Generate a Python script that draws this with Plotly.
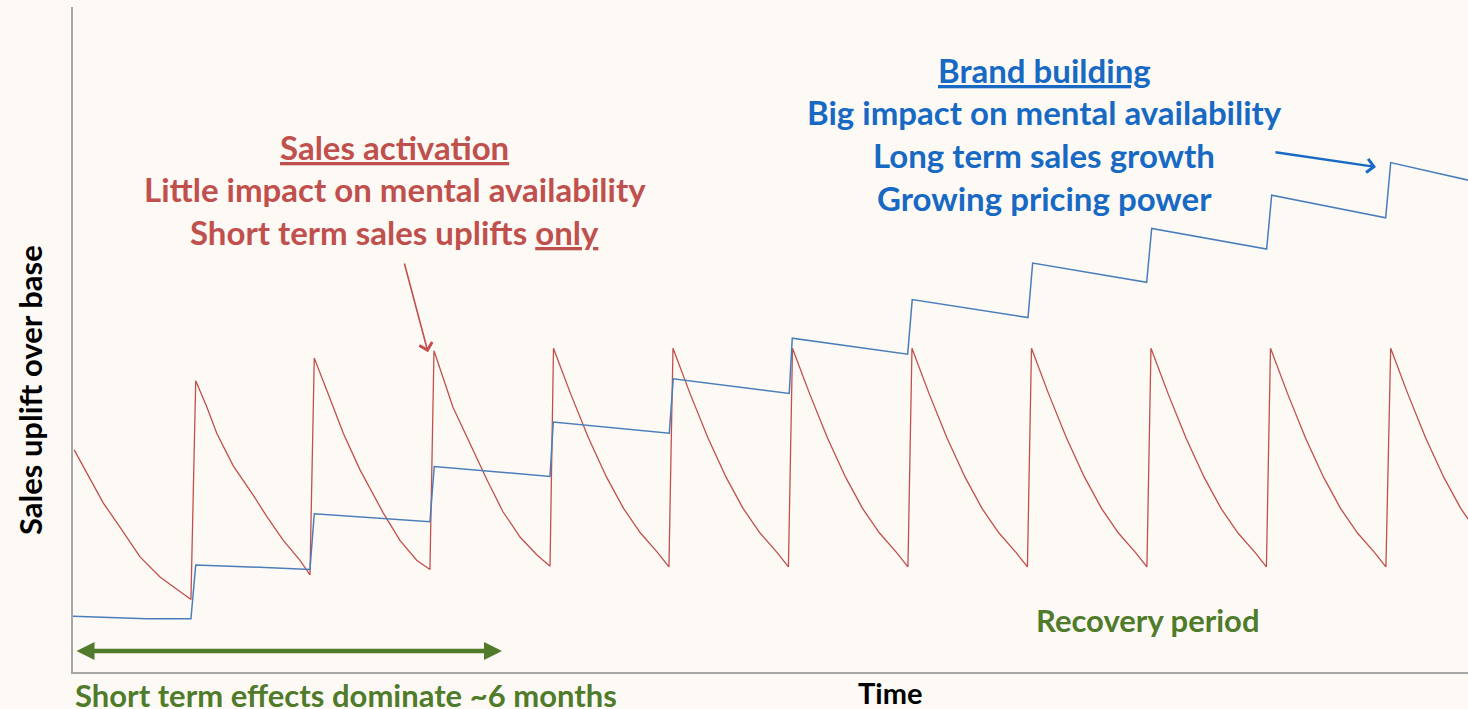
import plotly.graph_objects as go

# ---- data (x = time units, one campaign every 10 units; y = uplift index 0-100) ----
red_x = [
    0.10, 1.15, 2.54, 3.93, 5.61, 7.28, 8.95, 9.87,
    10.27, 11.19, 12.03, 13.41, 15.08, 16.21, 17.60, 19.00, 19.83,
    20.19, 21.23, 22.62, 24.02, 25.97, 27.36, 28.76, 29.87,
    30.21, 31.80, 33.22, 34.64, 35.98, 37.41, 38.83, 39.92,
    40.21, 41.63, 43.14, 44.65, 46.07, 47.49, 48.91, 49.87,
    50.21, 51.63, 53.14, 54.65, 56.07, 57.49, 58.91, 59.87,
    60.21, 61.63, 63.14, 64.65, 66.07, 67.49, 68.91, 69.87,
    70.21, 71.63, 73.14, 74.65, 76.07, 77.49, 78.91, 79.87,
    80.21, 81.63, 83.14, 84.65, 86.07, 87.49, 88.91, 89.87,
    90.21, 91.63, 93.14, 94.65, 96.07, 97.49, 98.91, 99.87,
    100.21, 101.63, 103.14, 104.65, 106.07, 107.49, 108.91, 109.87,
    110.27, 111.69, 113.20, 114.71, 116.13, 116.90,
]
red_y = [
    33.4, 29.9, 25.4, 21.8, 17.3, 14.3, 12.1, 10.9,
    43.8, 39.9, 35.9, 31.0, 26.6, 23.4, 19.8, 16.8, 14.6,
    47.2, 42.4, 35.9, 30.4, 23.9, 19.8, 16.8, 15.4,
    48.3, 39.8, 34.4, 28.9, 24.1, 20.3, 17.6, 15.9,
    48.7, 41.9, 35.2, 29.3, 24.6, 20.9, 18.0, 15.8,
    48.7, 41.9, 35.2, 29.3, 24.6, 20.9, 18.0, 15.8,
    48.7, 41.9, 35.2, 29.3, 24.6, 20.9, 18.0, 15.8,
    48.7, 41.9, 35.2, 29.3, 24.6, 20.9, 18.0, 15.8,
    48.7, 41.9, 35.2, 29.3, 24.6, 20.9, 18.0, 15.8,
    48.7, 41.9, 35.2, 29.3, 24.6, 20.9, 18.0, 15.8,
    48.7, 41.9, 35.2, 29.3, 24.6, 20.9, 18.0, 15.8,
    48.7, 41.9, 35.2, 29.3, 24.6, 22.6,
]
blue_x = [0.0, 6.17, 9.87, 10.27, 14.81, 19.83, 20.19, 29.87, 30.23, 39.92,
          40.19, 49.90, 50.23, 59.94, 60.19, 69.85, 70.23, 79.92, 80.31, 89.85,
          90.27, 99.89, 100.31, 109.85, 110.27, 116.90]
blue_y = [8.4, 8.0, 8.0, 16.1, 15.8, 15.4, 23.8, 22.6, 30.9, 29.4,
          37.6, 35.9, 44.1, 41.9, 50.2, 47.8, 56.0, 53.3, 61.5, 58.6,
          66.7, 63.6, 71.7, 68.3, 76.6, 73.9]

x_range = [0, 116.74]
y_range = [0, 100]

red_lines = ["<u>Sales activation</u>",
             "Little impact on mental availability",
             "Short term sales uplifts <u>only</u>"]
blue_lines = ["<u>Brand building</u>",
              "Big impact on mental availability",
              "Long term sales growth",
              "Growing pricing power"]

# ---- styling ----
BG = "#fdfaf5"
RED = "#c0504d"
RED_TXT = "#c0504d"
BLUE_LINE = "#4a7ebb"
BLUE_TXT = "#1769c4"
GREEN = "#4f7b2b"
AXIS = "#a6a6a6"
FONT = "Lato"

fig = go.Figure()
fig.add_trace(go.Scatter(x=red_x, y=red_y, mode="lines",
                         line=dict(color=RED, width=1.3), hoverinfo="skip"))
fig.add_trace(go.Scatter(x=blue_x, y=blue_y, mode="lines",
                         line=dict(color=BLUE_LINE, width=1.5), hoverinfo="skip"))

ann = []
# red text block
for txt, yp in zip(red_lines, [0.7895, 0.7263, 0.6617]):
    ann.append(dict(xref="paper", yref="paper", x=0.2308, y=yp, text=txt,
                    showarrow=False, xanchor="center", yanchor="middle",
                    font=dict(family=FONT, size=33, color=RED_TXT, weight="bold")))
# blue text block
for txt, yp in zip(blue_lines, [0.9053, 0.8421, 0.7774, 0.7128]):
    ann.append(dict(xref="paper", yref="paper", x=0.6961, y=yp, text=txt,
                    showarrow=False, xanchor="center", yanchor="middle",
                    font=dict(family=FONT, size=33, color=BLUE_TXT, weight="bold")))
# green labels
ann.append(dict(xref="paper", yref="paper", x=0.7706, y=0.0782, text="Recovery period",
                showarrow=False, xanchor="center", yanchor="middle",
                font=dict(family=FONT, size=31, color=GREEN, weight="bold")))
ann.append(dict(xref="paper", yref="paper", x=0.0, y=-0.0346,
                text="Short term effects dominate ~6 months",
                showarrow=False, xanchor="left", yanchor="middle",
                font=dict(family=FONT, size=31, color=GREEN, weight="bold")))
# axis titles
ann.append(dict(xref="paper", yref="paper", x=0.5857, y=-0.0301, text="Time",
                showarrow=False, xanchor="center", yanchor="middle",
                font=dict(family=FONT, size=29, color="black", weight="bold")))
ann.append(dict(xref="paper", yref="paper", x=-0.0308, y=0.424, text="Sales uplift over base",
                showarrow=False, xanchor="center", yanchor="middle", textangle=-90,
                font=dict(family=FONT, size=31, color="black", weight="bold")))
# arrows
ann.append(dict(xref="x", yref="y", axref="x", ayref="y", x=29.71, y=48.1, ax=27.70, ay=61.65,
                text="", showarrow=True, arrowhead=4, arrowsize=1.6, arrowwidth=1.6,
                arrowcolor=RED))
ann.append(dict(xref="x", yref="y", axref="x", ayref="y", x=109.04, y=75.94, ax=100.50, ay=78.20,
                text="", showarrow=True, arrowhead=4, arrowsize=1.1, arrowwidth=2.4,
                arrowcolor=BLUE_TXT))
ann.append(dict(xref="x", yref="y", axref="x", ayref="y", x=35.90, y=3.16, ax=0.17, ay=3.16,
                text="", showarrow=True, arrowhead=2, startarrowhead=2, arrowside="end+start",
                arrowsize=0.8, startarrowsize=0.8, arrowwidth=4.5, arrowcolor=GREEN))

fig.update_layout(
    width=1468, height=709, autosize=False,
    margin=dict(l=73, r=0, t=7, b=37, pad=0),
    paper_bgcolor=BG, plot_bgcolor=BG,
    showlegend=False,
    annotations=ann,
    xaxis=dict(range=x_range, showline=True, linecolor=AXIS, linewidth=1.5,
               showgrid=False, zeroline=False, showticklabels=False, ticks="",
               fixedrange=True),
    yaxis=dict(range=y_range, showline=True, linecolor=AXIS, linewidth=1.5,
               showgrid=False, zeroline=False, showticklabels=False, ticks="",
               fixedrange=True),
)

fig.write_html("out.html", config={"displayModeBar": False},
               post_script="document.body.style.margin='0';"
                           "document.body.style.overflow='hidden';"
                           "document.body.style.background='" + BG + "';")
